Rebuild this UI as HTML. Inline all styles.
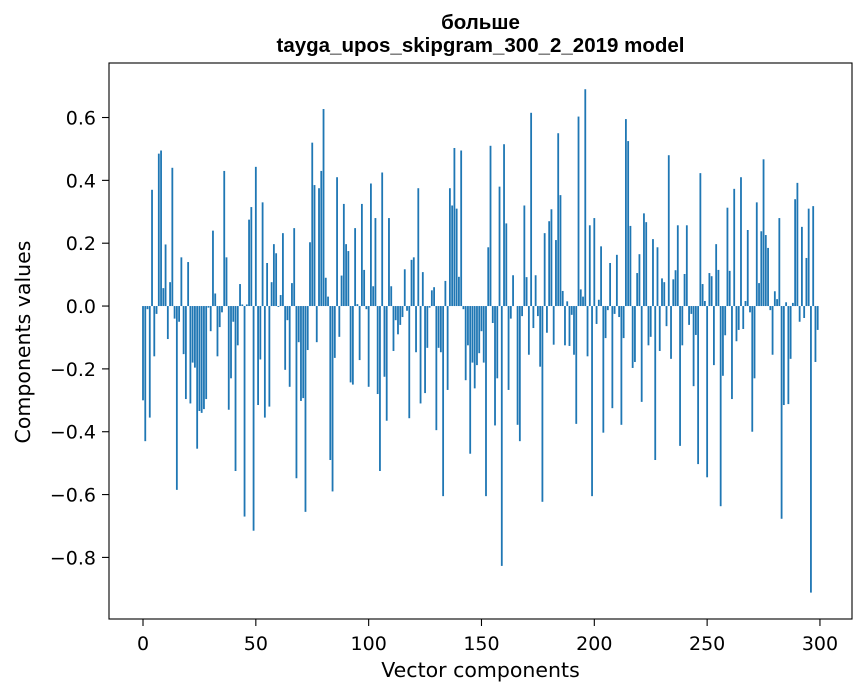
<!DOCTYPE html>
<html><head><meta charset="utf-8"><style>
html,body{margin:0;padding:0;background:#fff}
svg{display:block;font-family:"DejaVu Sans","Liberation Sans",sans-serif}
</style></head><body>
<svg id="chart" width="867" height="696" viewBox="0 0 867 696">
<text x="480.5" y="29" text-anchor="middle" font-size="20.5" font-weight="bold" font-family="Liberation Sans, Arial, sans-serif">больше</text>
<text x="480.5" y="52" text-anchor="middle" font-size="20.5" font-weight="bold" font-family="Liberation Sans, Arial, sans-serif">tayga_upos_skipgram_300_2_2019 model</text>
<g id="bars"></g>
<rect x="109" y="63" width="743" height="556" fill="none" stroke="#000" stroke-width="1.1"/>
<g id="xticks"></g>
<g id="yticks"></g>
<text x="480.5" y="677" text-anchor="middle" font-size="20.5">Vector components</text>
<text transform="translate(30,342) rotate(-90)" text-anchor="middle" font-size="20.5">Components values</text>
</svg>
<script>
const values = [
-0.30,-0.43,-0.01,-0.355,0.37,-0.16,-0.025,0.485,0.495,0.057,
0.196,-0.105,0.076,0.44,-0.04,-0.585,-0.05,0.155,-0.153,-0.296,
0.14,-0.31,-0.18,-0.196,-0.454,-0.334,-0.34,-0.328,-0.296,-0.005,
-0.08,0.24,0.04,-0.16,-0.067,-0.02,0.43,0.155,-0.33,-0.23,
-0.05,-0.525,-0.125,0.07,0.005,-0.67,0.005,0.275,0.315,-0.715,
0.443,-0.315,-0.17,0.33,-0.355,0.137,-0.32,0.076,0.197,0.168,
-0.003,0.035,0.232,-0.203,-0.045,-0.257,0.073,0.248,-0.548,-0.115,
-0.302,-0.293,-0.655,-0.14,0.203,0.52,0.385,-0.115,0.375,0.43,
0.627,0.09,0.03,-0.49,-0.59,-0.165,0.41,-0.098,0.097,0.325,
0.197,0.175,-0.243,-0.25,0.248,0.006,-0.172,0.325,0.115,-0.01,
-0.257,0.39,0.063,0.28,-0.28,-0.525,0.425,-0.225,-0.365,0.28,
0.063,-0.143,-0.045,-0.09,-0.06,-0.035,0.117,-0.015,-0.357,0.147,
0.155,-0.147,0.375,-0.31,0.108,-0.277,-0.133,-0.005,0.05,0.06,
-0.395,-0.133,-0.147,-0.605,0.08,-0.267,0.375,0.32,0.503,0.31,
0.093,0.495,-0.01,-0.236,-0.125,-0.47,-0.18,-0.262,-0.188,-0.15,
-0.08,-0.18,-0.605,0.187,0.51,-0.054,-0.38,-0.23,0.38,-0.827,
0.515,0.263,-0.267,-0.04,0.098,0.0,-0.378,-0.43,-0.032,0.32,
0.092,-0.155,0.615,-0.07,0.098,-0.032,-0.193,-0.623,0.232,-0.085,
0.27,0.308,-0.123,0.21,0.55,0.353,0.048,-0.125,0.015,-0.127,
-0.028,-0.155,-0.375,0.603,0.053,0.03,0.69,-0.16,0.257,-0.605,
0.28,-0.057,0.02,0.19,-0.403,-0.102,-0.013,0.137,-0.325,-0.025,
0.163,-0.035,-0.378,-0.102,0.595,0.525,0.255,-0.197,-0.178,0.105,
0.165,-0.305,0.295,0.267,-0.125,-0.098,0.213,-0.49,0.187,-0.143,
0.088,0.076,-0.064,0.48,-0.168,0.085,0.114,0.257,-0.445,-0.125,
0.102,0.257,-0.06,-0.025,-0.255,-0.092,-0.503,0.423,0.07,0.016,
-0.545,0.105,0.095,-0.188,0.197,0.115,-0.637,-0.222,-0.093,0.313,
0.112,-0.296,0.373,-0.112,-0.076,0.41,-0.073,0.016,0.242,-0.02,
-0.4,-0.23,0.33,0.073,0.238,0.467,0.226,0.185,-0.013,-0.155,
0.047,0.022,0.28,-0.677,-0.315,0.012,-0.312,-0.168,0.01,0.34,
0.392,-0.05,0.252,-0.038,0.153,0.31,-0.912,0.318,-0.178,-0.076
];
const xTickValues = [0,50,100,150,200,250,300];
const yTickValues = [-0.8,-0.6,-0.4,-0.2,0.0,0.2,0.4,0.6];
const yTickLabels = ["\u22120.8","\u22120.6","\u22120.4","\u22120.2","0.0","0.2","0.4","0.6"];

const NS="http://www.w3.org/2000/svg";
const xMin=-15.07, xMax=314.2, pxL=109, pxR=852;
const yMin=-0.996, yMax=0.7735, pyB=619, pyT=63;
function xs(v){return pxL+(v-xMin)/(xMax-xMin)*(pxR-pxL);}
function ys(v){return pyB-(v-yMin)/(yMax-yMin)*(pyB-pyT);}

const gb=document.getElementById('bars');
values.forEach((v,i)=>{
  const r=document.createElementNS(NS,'rect');
  const x0=xs(i-0.4), x1=xs(i+0.4);
  const y0=ys(Math.max(v,0)), y1=ys(Math.min(v,0));
  r.setAttribute('x',x0); r.setAttribute('width',x1-x0);
  r.setAttribute('y',y0); r.setAttribute('height',Math.max(y1-y0,0));
  r.setAttribute('fill','#1f77b4');
  
  
  gb.appendChild(r);
});
const gx=document.getElementById('xticks');
xTickValues.forEach(t=>{
  const x=xs(t);
  const l=document.createElementNS(NS,'line');
  l.setAttribute('x1',x);l.setAttribute('x2',x);l.setAttribute('y1',619);l.setAttribute('y2',626);
  l.setAttribute('stroke','#000');l.setAttribute('stroke-width','1.1');
  
  
  gx.appendChild(l);
  const tx=document.createElementNS(NS,'text');
  tx.setAttribute('x',x);tx.setAttribute('y',650);tx.setAttribute('text-anchor','middle');tx.setAttribute('font-size','19');
  tx.textContent=t;
  
  
  gx.appendChild(tx);
});
const gy=document.getElementById('yticks');
yTickValues.forEach((t,k)=>{
  const y=ys(t);
  const l=document.createElementNS(NS,'line');
  l.setAttribute('x1',102);l.setAttribute('x2',109);l.setAttribute('y1',y);l.setAttribute('y2',y);
  l.setAttribute('stroke','#000');l.setAttribute('stroke-width','1.1');
  
  
  gy.appendChild(l);
  const tx=document.createElementNS(NS,'text');
  tx.setAttribute('x',96);tx.setAttribute('y',y+7);tx.setAttribute('text-anchor','end');tx.setAttribute('font-size','19');
  tx.textContent=yTickLabels[k];
  
  
  gy.appendChild(tx);
});
</script>
</body></html>
